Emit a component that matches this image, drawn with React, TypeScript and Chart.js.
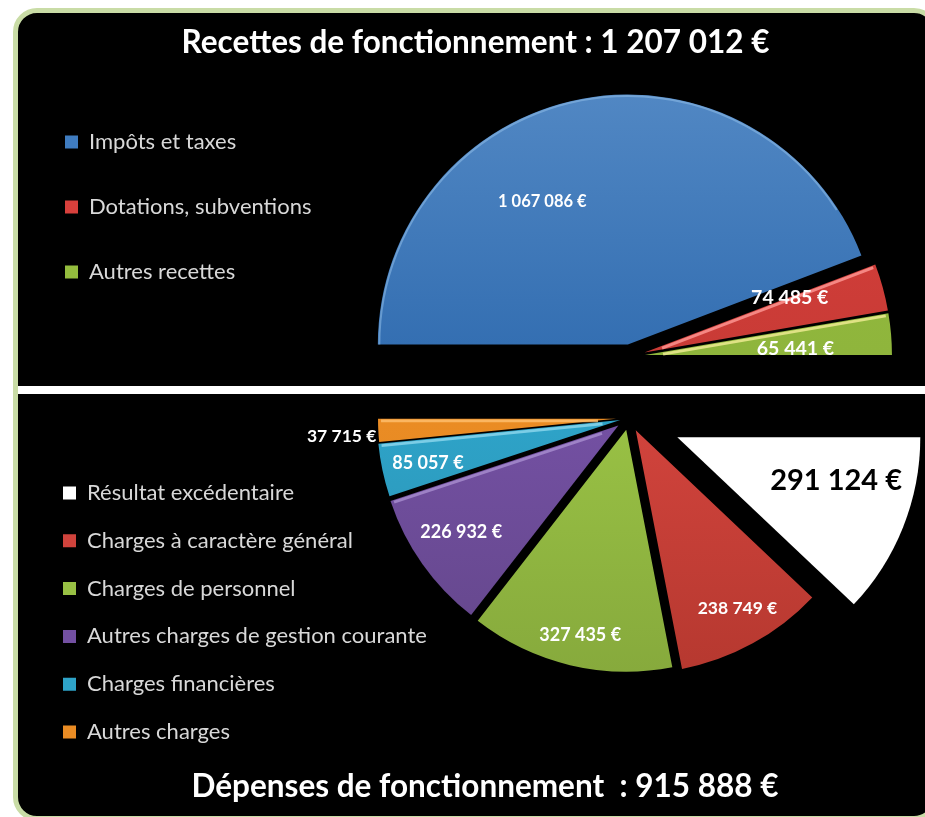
import React, { useEffect, useRef } from "react";
import { Chart, registerables } from "chart.js";

Chart.register(...registerables);

const FONT = "Lato, 'Open Sans', sans-serif";

const incomeLabels = ["Impôts et taxes", "Dotations, subventions", "Autres recettes"];
const incomeValues = [1067086, 74485, 65441];
const incomeColors = ["#3f7cc0", "#d8403c", "#94bd3e"];
const incomeLight = ["#5288c4", "#d8403c", "#94bd3e"];
const incomeDark = ["#346fb2", "#c93b36", "#8fb53c"];
const incomeExplode = [12, 15, 15];
const incomeRadii = [250, 247, 247];
const incomeBevels = [null, "#ff9a96", "#f2ee96"];
const incomeRims = ["#8fbde8", null, null];

const spendLabels = [
  "Résultat excédentaire",
  "Charges à caractère général",
  "Charges de personnel",
  "Autres charges de gestion courante",
  "Charges financières",
  "Autres charges",
];
const spendValues = [291124, 238749, 327435, 226932, 85057, 37715];
const spendColors = ["#ffffff", "#d0433c", "#98c044", "#7350a2", "#2ea3c8", "#ea8c24"];
const spendDark = ["#ffffff", "#b5382f", "#86a93c", "#634689", "#2a8fb0", "#e08420"];
const spendExplode = [52, 14, 12, 13, 9, 13];
const spendRadii = [243, 243, 242, 240, 243, 238];
const spendBevels = [null, null, null, "#a98fd0", "#8fd8ee", "#ffc070"];
const spendRims = [null, null, null, null, null, null];

const incomeTitle = "Recettes de fonctionnement : 1 207 012 €";
const spendTitle = "Dépenses de fonctionnement  : 915 888 €";

const formatEuro = (v: number) => String(v).replace(/\B(?=(\d{3})+(?!\d))/g, " ") + " €";

const toRad = (d: number) => (d * Math.PI) / 180;

/* Chart.js moves an arc by a quarter of its offset option. */
const tipOf = (arc: any) => {
  const mid = (arc.startAngle + arc.endAngle) / 2;
  const off = (arc.options.offset || 0) / 4;
  return { x: arc.x + Math.cos(mid) * off, y: arc.y + Math.sin(mid) * off };
};

/* Places the legend freely and gives it a set width so that the pie sits right of it. */
const legendPlacer = {
  id: "legendPlacer",
  beforeLayout(chart: any, _a: any, o: any) {
    const l = chart.legend;
    if (l._widthFixed) return;
    const fit = l.fit;
    l.fit = function () {
      fit.call(this);
      this.width = o.width;
    };
    l._widthFixed = true;
  },
  afterLayout(chart: any, _a: any, o: any) {
    const l = chart.legend;
    const pad = l.options.labels.padding;
    l.left = o.x - pad;
    l.right = chart.width;
    l.top = o.y - pad;
    l.bottom = chart.height;
  },
};

/* An exploded arc is also drawn larger and narrower by Chart.js: this undoes both. */
const sliceRadius = {
  id: "sliceRadius",
  afterDatasetsUpdate(chart: any, _a: any, o: any) {
    chart.getDatasetMeta(0).data.forEach((arc: any, i: number) => {
      const off = (arc.options.offset || 0) / 4;
      const fix = 1 - Math.sin(Math.min(Math.PI, arc.circumference || 0));
      const grow = off * fix;
      arc.outerRadius = o.radii[i] - grow;
      const narrow = grow / (2 * Math.PI * o.radii[i]);
      arc.startAngle -= narrow;
      arc.endAngle += narrow;
    });
  },
};

/* Light strip along the upper edge of a slice, and along the rim where asked. */
const bevelEdges = {
  id: "bevelEdges",
  afterDatasetsDraw(chart: any, _a: any, o: any) {
    const { ctx } = chart;
    chart.getDatasetMeta(0).data.forEach((arc: any, i: number) => {
      const tip = tipOf(arc);
      const mid = (arc.startAngle + arc.endAngle) / 2;
      const half = arc.circumference / 2;
      const rim = o.rims[i];
      if (rim) {
        ctx.save();
        ctx.strokeStyle = rim;
        ctx.globalAlpha = 0.55;
        ctx.lineWidth = 2;
        ctx.beginPath();
        ctx.arc(tip.x, tip.y, o.radii[i] - 1.5, mid - half, mid + half * 0.85);
        ctx.stroke();
        ctx.restore();
      }
      const color = o.colors[i];
      if (!color) return;
      const edge = o.edge === "start" ? mid - half : mid + half;
      const n = edge + (o.edge === "start" ? Math.PI / 2 : -Math.PI / 2);
      const ix = Math.cos(n) * 2.2;
      const iy = Math.sin(n) * 2.2;
      const r = o.radii[i] - 3;
      ctx.save();
      ctx.strokeStyle = color;
      ctx.globalAlpha = 0.8;
      ctx.lineWidth = 2.8;
      ctx.beginPath();
      ctx.moveTo(tip.x + ix + Math.cos(edge) * 18, tip.y + iy + Math.sin(edge) * 18);
      ctx.lineTo(tip.x + ix + Math.cos(edge) * r, tip.y + iy + Math.sin(edge) * r);
      ctx.stroke();
      ctx.restore();
    });
  },
};

/* Value of each slice, written at a polar place measured from the slice's tip. */
const valueLabels = {
  id: "valueLabels",
  afterDraw(chart: any, _a: any, o: any) {
    const { ctx } = chart;
    const values = chart.data.datasets[0].data;
    chart.getDatasetMeta(0).data.forEach((arc: any, i: number) => {
      const tip = tipOf(arc);
      const a = toRad(o.angles[i]);
      const d = o.sliceRadii[i] * o.radii[i];
      ctx.save();
      ctx.font = `bold ${o.sizes[i]}px ${FONT}`;
      ctx.fillStyle = o.colors[i];
      ctx.textAlign = "center";
      ctx.textBaseline = "middle";
      ctx.fillText(formatEuro(values[i]), tip.x + Math.cos(a) * d, tip.y + Math.sin(a) * d + 1);
      ctx.restore();
    });
  },
};

function makePie(canvas: HTMLCanvasElement, cfg: any) {
  return new Chart(canvas, {
    type: "pie",
    data: {
      labels: cfg.labels,
      datasets: [
        {
          data: cfg.values,
          radius: cfg.radius,
          borderWidth: 0,
          offset: cfg.explode.map((v: number) => v * 4),
          backgroundColor: (c: any) => {
            const g = c.chart.ctx.createLinearGradient(0, cfg.span[0], 0, cfg.span[1]);
            g.addColorStop(0, cfg.light[c.dataIndex]);
            g.addColorStop(1, cfg.dark[c.dataIndex]);
            return g;
          },
        } as any,
      ],
    },
    options: {
      responsive: false,
      animation: false,
      events: [],
      rotation: cfg.rotation,
      circumference: 180,
      plugins: {
        tooltip: { enabled: false },
        title: {
          display: true,
          text: cfg.title,
          position: cfg.titlePos,
          color: "#ffffff",
          font: { family: FONT, size: 31.5, weight: "bold" },
          padding: cfg.titlePadding,
        },
        legend: {
          position: "left",
          align: "start",
          labels: {
            color: "#d8d8d8",
            font: { family: FONT, size: 22 },
            boxWidth: 13,
            boxHeight: 13,
            padding: cfg.legendPad,
            generateLabels: () =>
              cfg.labels.map((text: string, i: number) => ({
                text,
                fillStyle: cfg.colors[i],
                strokeStyle: cfg.colors[i],
                lineWidth: 0,
                hidden: false,
                index: i,
                fontColor: "#d8d8d8",
              })),
          },
        },
        legendPlacer: { width: cfg.legendWidth, x: cfg.legendX, y: cfg.legendY },
        sliceRadius: { radii: cfg.sliceRadii },
        bevelEdges: { colors: cfg.bevels, rims: cfg.rims, edge: cfg.edge, radii: cfg.sliceRadii },
        valueLabels: {
          angles: cfg.angles,
          radii: cfg.labelRadii,
          sliceRadii: cfg.sliceRadii,
          colors: cfg.labelColors,
          sizes: cfg.labelSizes,
        },
      },
    } as any,
    plugins: [legendPlacer, sliceRadius, bevelEdges, valueLabels],
  } as any);
}

export default function App() {
  const topRef = useRef<HTMLCanvasElement>(null);
  const botRef = useRef<HTMLCanvasElement>(null);

  useEffect(() => {
    const top = makePie(topRef.current!, {
      labels: incomeLabels,
      values: incomeValues,
      colors: incomeColors,
      light: incomeLight,
      dark: incomeDark,
      explode: incomeExplode,
      sliceRadii: incomeRadii,
      rotation: -90,
      radius: 248,
      span: [96, 356],
      title: incomeTitle,
      titlePos: "top",
      titlePadding: { top: 24, bottom: 0 },
      legendWidth: 309,
      legendX: 65,
      legendY: 131,
      legendPad: 43,
      bevels: incomeBevels,
      rims: incomeRims,
      edge: "start",
      angles: [-120.7, -21, -2.7],
      labelRadii: [0.67, 0.63, 0.61],
      labelColors: ["#ffffff", "#ffffff", "#ffffff"],
      labelSizes: [16.5, 19.5, 19.5],
    });
    const bot = makePie(botRef.current!, {
      labels: spendLabels,
      values: spendValues,
      colors: spendColors,
      light: spendColors,
      dark: spendDark,
      explode: spendExplode,
      sliceRadii: spendRadii,
      rotation: 90,
      radius: 242,
      span: [110, 360],
      title: spendTitle,
      titlePos: "bottom",
      titlePadding: { top: 0, bottom: 11 },
      legendWidth: 288,
      legendX: 63,
      legendY: 172,
      legendPad: 25.8,
      bevels: spendBevels,
      rims: spendRims,
      edge: "end",
      angles: [14.9, 60.1, 102.7, 146, 167.7, 176.5],
      labelRadii: [0.676, 0.84, 0.865, 0.79, 0.81, 1.155],
      labelColors: ["#000000", "#ffffff", "#ffffff", "#ffffff", "#ffffff", "#ffffff"],
      labelSizes: [29, 17.5, 18, 18, 18, 17.5],
    });
    return () => {
      top.destroy();
      bot.destroy();
    };
  }, []);

  const canvasStyle: React.CSSProperties = {
    position: "absolute",
    left: 0,
    filter: "blur(0.7px)",
  };

  return (
    <div
      style={{
        position: "fixed",
        left: 0,
        top: 0,
        width: 925,
        height: 817,
        overflow: "hidden",
        background: "#ffffff",
      }}
    >
      <div
        style={{
          position: "absolute",
          left: 13,
          top: 8,
          width: 925,
          height: 813,
          boxSizing: "border-box",
          border: "5px solid #c9dca6",
          borderRadius: 24,
          background: "#000000",
        }}
      />
      <div
        style={{
          position: "absolute",
          left: 18,
          top: 386,
          width: 907,
          height: 8,
          background: "#ffffff",
        }}
      />
      <canvas ref={topRef} width={951} height={403} style={{ ...canvasStyle, top: 0 }} />
      <canvas ref={botRef} width={970} height={507} style={{ ...canvasStyle, top: 310 }} />
    </div>
  );
}
